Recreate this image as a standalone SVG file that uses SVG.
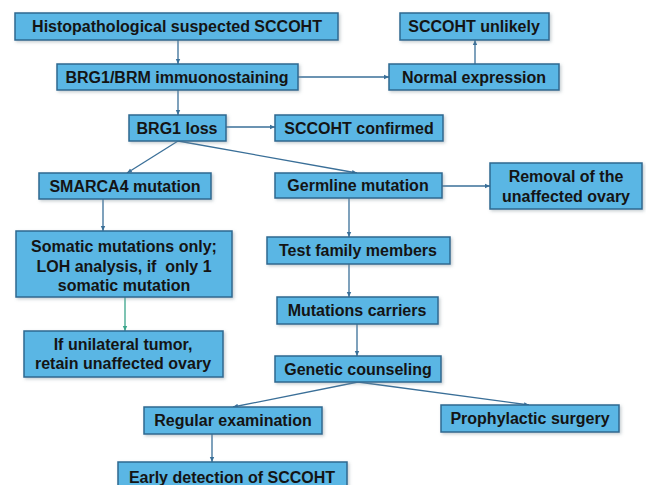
<svg xmlns="http://www.w3.org/2000/svg" width="646" height="485" viewBox="0 0 646 485">
<defs>
<style>
.box{fill:#5ab6e4;stroke:#2c6890;stroke-width:1.5;filter:url(#sh)}
text{font-family:"Liberation Sans",Arial,sans-serif;font-weight:bold;font-size:16px;fill:#141414;text-anchor:middle}
.c{fill:none;stroke:#3a6f98;stroke-width:1.3}
.g{fill:none;stroke:#3aa58a;stroke-width:1.3}
</style>
<filter id="sh" x="-10%" y="-30%" width="120%" height="160%"><feDropShadow dx="1.5" dy="1.5" stdDeviation="1.5" flood-color="#7f8f9a" flood-opacity="0.45"/></filter>
<marker id="a" markerWidth="6" markerHeight="6" refX="5" refY="3" orient="auto" markerUnits="userSpaceOnUse"><path d="M0,0.8 L5,3 L0,5.2z" fill="#3a6f98"/></marker>
<marker id="ag" markerWidth="6" markerHeight="6" refX="5" refY="3" orient="auto" markerUnits="userSpaceOnUse"><path d="M0,0.8 L5,3 L0,5.2z" fill="#3aa58a"/></marker>
</defs>
<rect width="646" height="485" fill="#fff"/>
<g id="connectors">
<line class="c" x1="178" y1="40" x2="178" y2="64" marker-end="url(#a)"/>
<line class="c" x1="178" y1="90" x2="178" y2="115" marker-end="url(#a)"/>
<line class="c" x1="298" y1="77" x2="389" y2="77" marker-end="url(#a)"/>
<line class="c" x1="475" y1="64" x2="475" y2="40" marker-end="url(#a)"/>
<line class="c" x1="226" y1="127" x2="275" y2="127" marker-end="url(#a)"/>
<line class="c" x1="178" y1="141" x2="127" y2="173" marker-end="url(#a)"/>
<line class="c" x1="178" y1="141" x2="357" y2="173" marker-end="url(#a)"/>
<line class="c" x1="103" y1="199" x2="103" y2="231" marker-end="url(#a)"/>
<line class="g" x1="125" y1="297" x2="125" y2="331" marker-end="url(#ag)"/>
<line class="c" x1="442" y1="186" x2="490" y2="186" marker-end="url(#a)"/>
<line class="c" x1="349" y1="198" x2="349" y2="237" marker-end="url(#a)"/>
<line class="c" x1="349" y1="264" x2="349" y2="297" marker-end="url(#a)"/>
<line class="c" x1="357" y1="324" x2="357" y2="356" marker-end="url(#a)"/>
<line class="c" x1="358" y1="382" x2="233" y2="407" marker-end="url(#a)"/>
<line class="c" x1="358" y1="382" x2="529" y2="405" marker-end="url(#a)"/>
<line class="c" x1="212" y1="434" x2="212" y2="462" marker-end="url(#a)"/>
</g>
<g id="n1"><rect class="box" x="15" y="13" width="323" height="27"/><text x="177" y="32">Histopathological suspected SCCOHT</text></g>
<g id="n2"><rect class="box" x="57" y="64" width="241" height="26"/><text x="177" y="83">BRG1/BRM immuonostaining</text></g>
<g id="n3"><rect class="box" x="129" y="115" width="97" height="26"/><text x="177" y="134">BRG1 loss</text></g>
<g id="n4"><rect class="box" x="275" y="115" width="168" height="26"/><text x="359" y="134">SCCOHT confirmed</text></g>
<g id="n5"><rect class="box" x="400" y="13" width="149" height="27"/><text x="474" y="32">SCCOHT unlikely</text></g>
<g id="n6"><rect class="box" x="389" y="64" width="170" height="26"/><text x="474" y="83">Normal expression</text></g>
<g id="n7"><rect class="box" x="39" y="173" width="172" height="26"/><text x="125" y="192">SMARCA4 mutation</text></g>
<g id="n8"><rect class="box" x="275" y="173" width="167" height="25"/><text x="358" y="191">Germline mutation</text></g>
<g id="n9"><rect class="box" x="490" y="163" width="152" height="46"/><text x="566" y="182">Removal of the</text><text x="566" y="202">unaffected ovary</text></g>
<g id="n10"><rect class="box" x="16" y="231" width="216" height="66"/><text x="124" y="252">Somatic mutations only;</text><text x="124" y="272">LOH analysis, if&#160; only 1</text><text x="124" y="291">somatic mutation</text></g>
<g id="n11"><rect class="box" x="24" y="331" width="199" height="46"/><text x="123" y="350">If unilateral tumor,</text><text x="123" y="369">retain unaffected ovary</text></g>
<g id="n12"><rect class="box" x="267" y="237" width="183" height="27"/><text x="358" y="256">Test family members</text></g>
<g id="n13"><rect class="box" x="277" y="297" width="161" height="27"/><text x="357" y="316">Mutations carriers</text></g>
<g id="n14"><rect class="box" x="275" y="356" width="166" height="26"/><text x="358" y="375">Genetic counseling</text></g>
<g id="n15"><rect class="box" x="144" y="407" width="178" height="27"/><text x="233" y="426">Regular examination</text></g>
<g id="n16"><rect class="box" x="441" y="405" width="178" height="27"/><text x="530" y="424">Prophylactic surgery</text></g>
<g id="n17"><rect class="box" x="118" y="462" width="229" height="30"/><text x="232" y="483">Early detection of SCCOHT</text></g>
</svg>
